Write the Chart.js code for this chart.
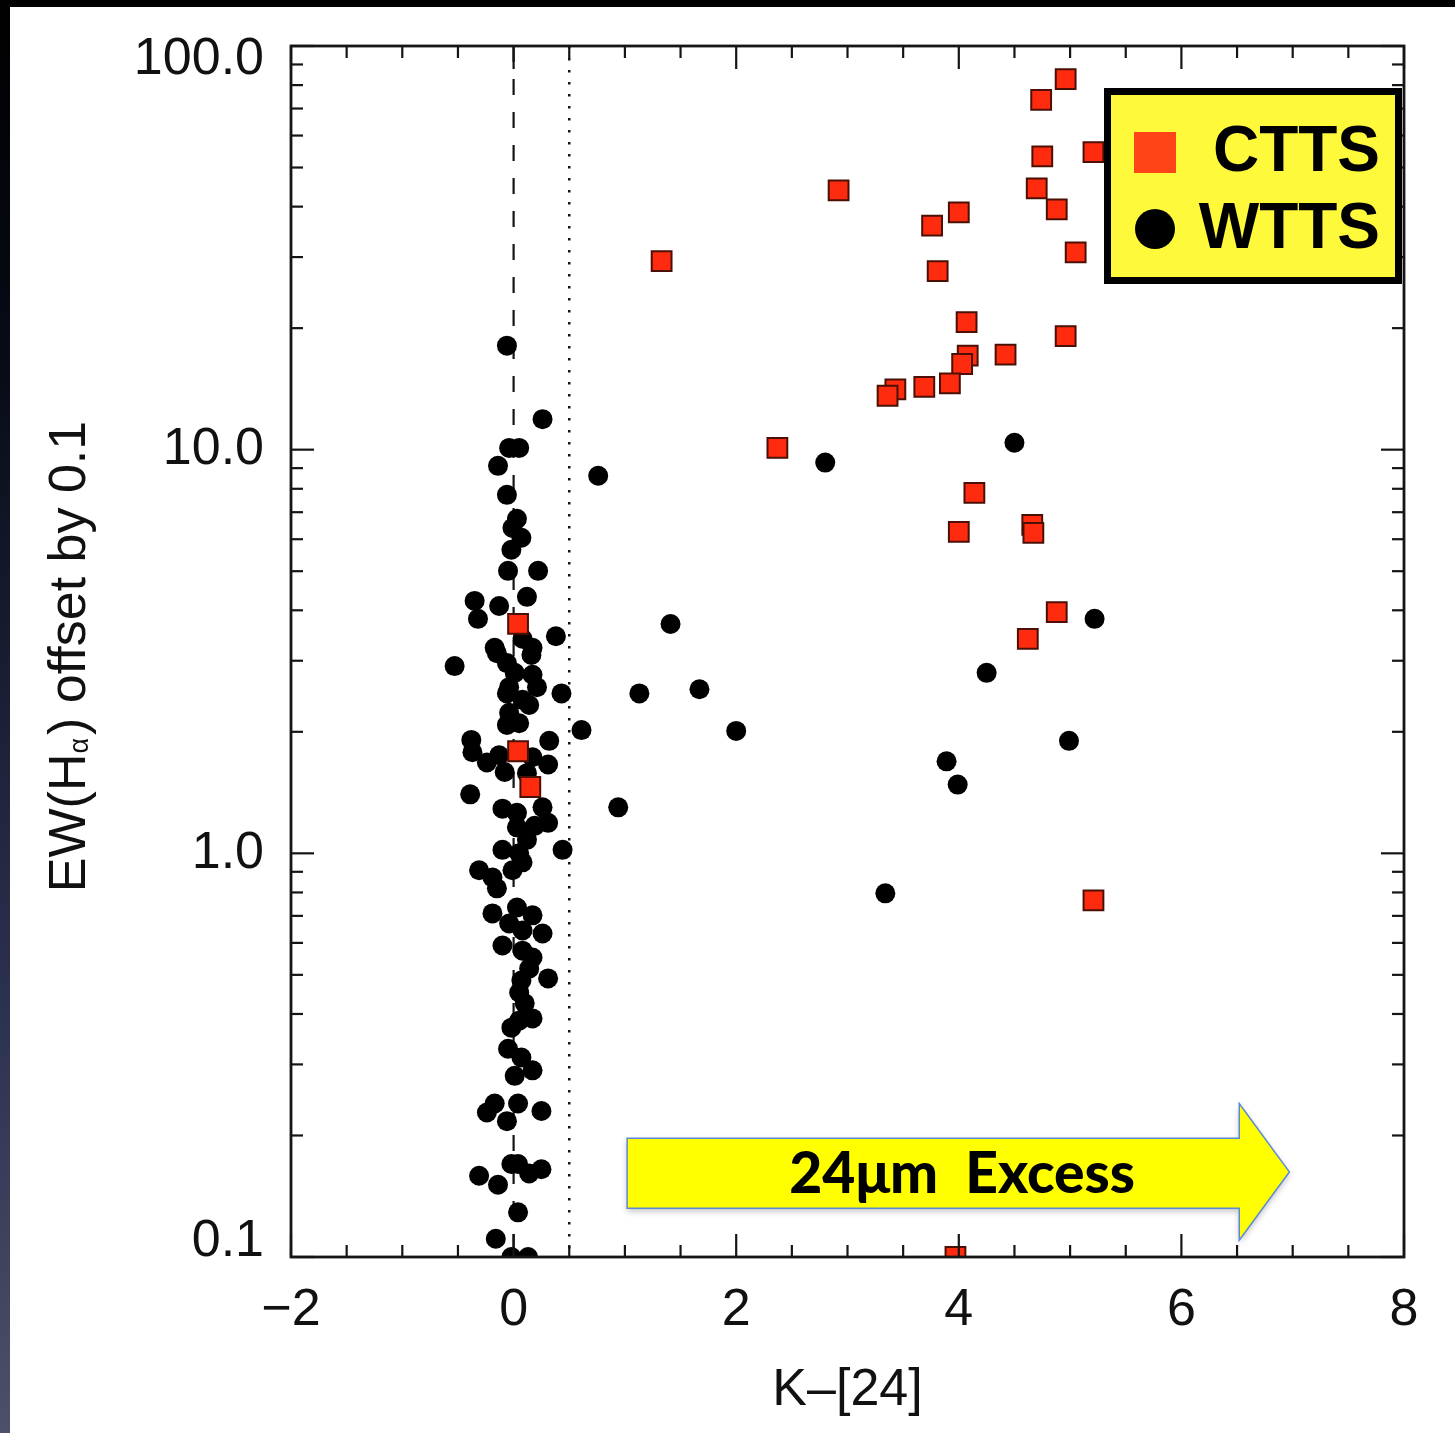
<!DOCTYPE html>
<html>
<head>
<meta charset="utf-8">
<title>EW(Hα) vs K-[24]</title>
<script src="https://cdn.jsdelivr.net/npm/chart.js@4.4.1/dist/chart.umd.min.js"></script>
<style>
  html, body { margin: 0; padding: 0; background: #fff; overflow: hidden; }
  #plot { display: block; }
</style>
</head>
<body>
<canvas id="plot" width="1455" height="1433"></canvas>
<script>
// ── Data: K-[24] colour vs EW(Hα) (offset by 0.1) ──
// CTTS (classical T Tauri stars)
const cttsX = [4.96, 4.74, 5.21, 4.75, 2.92, 4.70, 4.88, 4.00, 3.76, 5.05, 1.33,
               3.81, 4.07, 4.96, 4.42, 4.08, 4.03, 3.92, 3.69, 3.43, 3.36, 2.37,
               4.14, 4.66, 4.67, 4.00, 4.88, 4.62, 5.21, 3.97, 0.04, 0.04, 0.15];
const cttsY = [82.8, 73.5, 54.6, 53.3, 43.9, 44.4, 39.4, 38.7, 35.9, 30.8, 29.3,
               27.7, 20.7, 19.1, 17.2, 17.1, 16.3, 14.6, 14.3, 14.1, 13.6, 10.1,
               7.82, 6.51, 6.22, 6.26, 3.96, 3.40, 0.765, 0.1, 3.70, 1.79, 1.46];

// WTTS (weak-line T Tauri stars)
const wttsX = [-0.06, 0.26, -0.04, 0.05, -0.14, 0.76, -0.06, 0.03, -0.01, 0.07,
               -0.02, -0.05, 0.22, -0.35, 0.12, -0.13, -0.32, 0.38, 0.08, -0.17,
               0.17, -0.15, -0.53, -0.06, 0.16, 0.01, 0.17, -0.04, 0.21, 0.43,
               -0.06, 0.08, 0.14, -0.04, 0.61, -0.06, 0.05, -0.38, 0.32, -0.37,
               -0.24, -0.13, 0.17, 0.31, -0.08, 0.12, -0.39, 0.94, -0.10, 0.26,
               0.03, 0.31, 0.19, 0.03, 0.12, -0.10, 0.44, 0.05, 0.08, -0.31,
               -0.01, -0.19, -0.15, -0.19, 0.03, 0.17, -0.04, 0.08, 0.26, -0.10,
               0.08, 0.17, 0.14, 0.31, 0.07, 0.05, 0.10, 0.17, -0.02, 0.05,
               -0.05, 0.07, 0.17, 0.01, -0.17, 0.04, -0.24, -0.06, 0.25, -0.02,
               0.04, 0.25, 0.14, -0.31, -0.14, 0.04, -0.16, -0.02, 0.13,
               4.50, 2.80, 5.22, 1.41, 4.25, 1.13, 1.67, 2.00, 4.99, 3.89,
               3.99, 3.34];
const wttsY = [18.1, 11.9, 10.1, 10.1, 9.12, 8.62, 7.73, 6.74, 6.40, 6.05,
               5.65, 5.01, 5.01, 4.22, 4.32, 4.10, 3.81, 3.45, 3.40, 3.23,
               3.23, 3.13, 2.91, 2.96, 3.10, 2.80, 2.77, 2.58, 2.58, 2.49,
               2.49, 2.40, 2.33, 2.23, 2.02, 2.08, 2.10, 1.91, 1.90, 1.78,
               1.68, 1.75, 1.73, 1.66, 1.59, 1.58, 1.40, 1.30, 1.29, 1.30,
               1.26, 1.19, 1.17, 1.16, 1.08, 1.02, 1.02, 1.00, 0.95, 0.908,
               0.908, 0.871, 0.819, 0.710, 0.734, 0.702, 0.670, 0.644, 0.633, 0.591,
               0.574, 0.552, 0.518, 0.490, 0.484, 0.452, 0.425, 0.390, 0.370, 0.385,
               0.328, 0.312, 0.290, 0.281, 0.240, 0.240, 0.228, 0.217, 0.230, 0.170,
               0.170, 0.165, 0.161, 0.159, 0.151, 0.129, 0.111, 0.1, 0.1,
               10.4, 9.29, 3.81, 3.70, 2.80, 2.49, 2.55, 2.01, 1.90, 1.69,
               1.48, 0.796];

// Reference colours: photospheric K-[24] (dashed) and excess limit (dotted)
const photosphereX = 0;
const excessLimitX = 0.5;

// ── Axes ──
const xRange       = [-2, 8];
const yRange       = [0.1, 100];
const xMajorTicks  = [-2, 0, 2, 4, 6, 8];
const xMinorStep   = 0.5;
const yMajorTicks  = [0.1, 1, 10, 100];
const yTickLabels  = ["0.1", "1.0", "10.0", "100.0"];
const xTitle       = "K\u2013[24]";
const yTitleHead   = "EW(H";
const yTitleSub    = "\u03b1";
const yTitleTail   = ") offset by 0.1";

const keyLabels    = ["CTTS", "WTTS"];
const arrowLabel   = "24\u03bcm  Excess";

const COLORS = {
  ctts:      "#ff2b0e",
  cttsEdge:  "#4a1005",
  cttsKey:   "#ff4517",
  wtts:      "#000000",
  axis:      "#151515",
  text:      "#111111",
  keyFill:   "#fff93c",
  arrowFill: "#ffff00",
  arrowEdge: "#5a8ad6",
};

const FONT = '"Liberation Sans", Arial, Helvetica, sans-serif';

// arrow annotation, anchored in data units
const ARROW = { tailX: 1.02, headX: 6.52, tipX: 6.97,
                bodyTop: 0.197, bodyBottom: 0.132, headTop: 0.24, headBottom: 0.11,
                textX: 4.03 };

Chart.defaults.font.family = FONT;
Chart.defaults.color       = COLORS.text;

function toPoints(xs, ys) {
  return xs.map((x, i) => ({ x, y: ys[i] }));
}

// ── Page background (dark slide edge) ──
const pageBackground = {
  id: "pageBackground",
  beforeDraw(chart) {
    const { ctx, width, height } = chart;
    ctx.save();
    ctx.fillStyle = "#ffffff";
    ctx.fillRect(0, 0, width, height);
    ctx.fillStyle = "#000000";
    ctx.fillRect(0, 0, width, 7);
    const g = ctx.createLinearGradient(0, 0, 0, height);
    g.addColorStop(0, "#000000");
    g.addColorStop(0.25, "#080b16");
    g.addColorStop(0.7, "#2c3150");
    g.addColorStop(1, "#4c5068");
    ctx.fillStyle = g;
    ctx.fillRect(0, 0, 10, height);
    ctx.restore();
  },
};

// ── Box frame with inward ticks on all four sides, y labels and y title ──
const axisFrame = {
  id: "axisFrame",
  afterDatasetsDraw(chart) {
    const { ctx, chartArea: a, scales: { x, y } } = chart;
    ctx.save();
    ctx.strokeStyle = COLORS.axis;
    ctx.lineWidth = 2.2;
    const seg = (x1, y1, x2, y2) => {
      ctx.beginPath(); ctx.moveTo(x1, y1); ctx.lineTo(x2, y2); ctx.stroke();
    };

    for (let v = xRange[0]; v <= xRange[1] + 1e-9; v += xMinorStep) {
      const px = x.getPixelForValue(v);
      const len = xMajorTicks.includes(v) ? 23 : 12;
      seg(px, a.bottom, px, a.bottom - len);
      seg(px, a.top, px, a.top + len);
    }
    yMajorTicks.forEach(dec => {
      for (let m = 1; m <= 9; m++) {
        const v = dec * m;
        if (v > yRange[1] * 1.0001) break;
        const py = y.getPixelForValue(v);
        const len = m === 1 ? 23 : 12;
        seg(a.left, py, a.left + len, py);
        seg(a.right, py, a.right - len, py);
      }
    });

    ctx.lineWidth = 2.8;
    ctx.strokeRect(a.left, a.top, a.right - a.left, a.bottom - a.top);

    // y tick labels, kept inside the frame at the ends
    ctx.fillStyle = COLORS.text;
    ctx.font = `52px ${FONT}`;
    ctx.textAlign = "right";
    ctx.textBaseline = "middle";
    yMajorTicks.forEach((v, i) => {
      const py = Math.min(Math.max(y.getPixelForValue(v), a.top + 14), a.bottom - 15);
      ctx.fillText(yTickLabels[i], a.left - 27, py);
    });

    // y title with subscript alpha
    const big = `52px ${FONT}`, small = `27px ${FONT}`;
    ctx.font = big;
    const wHead = ctx.measureText(yTitleHead).width;
    const wTail = ctx.measureText(yTitleTail).width;
    ctx.font = small;
    const wSub = ctx.measureText(yTitleSub).width + 3;
    const total = wHead + wSub + wTail;
    ctx.translate(85, (a.top + a.bottom) / 2 + 5);
    ctx.rotate(-Math.PI / 2);
    ctx.textAlign = "left";
    ctx.textBaseline = "alphabetic";
    let cx = -total / 2;
    ctx.font = big;   ctx.fillText(yTitleHead, cx, 0); cx += wHead;
    ctx.font = small; ctx.fillText(yTitleSub, cx, 3);  cx += wSub;
    ctx.font = big;   ctx.fillText(yTitleTail, cx, 0);
    ctx.restore();
  },
};

// ── Arrow annotation and key box ──
const overlays = {
  id: "overlays",
  afterDraw(chart) {
    const { ctx, chartArea: a, scales: { x, y } } = chart;
    ctx.save();

    // arrow
    const x0 = x.getPixelForValue(ARROW.tailX);
    const xh = x.getPixelForValue(ARROW.headX);
    const xt = x.getPixelForValue(ARROW.tipX);
    const bt = y.getPixelForValue(ARROW.bodyTop);
    const bb = y.getPixelForValue(ARROW.bodyBottom);
    const ht = y.getPixelForValue(ARROW.headTop);
    const hb = y.getPixelForValue(ARROW.headBottom);
    const ym = (ht + hb) / 2;
    ctx.beginPath();
    ctx.moveTo(x0, bt); ctx.lineTo(xh, bt); ctx.lineTo(xh, ht);
    ctx.lineTo(xt, ym); ctx.lineTo(xh, hb); ctx.lineTo(xh, bb);
    ctx.lineTo(x0, bb); ctx.closePath();
    ctx.shadowColor = "rgba(0,0,0,0.25)";
    ctx.shadowBlur = 6;
    ctx.shadowOffsetY = 3;
    ctx.fillStyle = COLORS.arrowFill;
    ctx.fill();
    ctx.shadowColor = "transparent";
    ctx.lineWidth = 1.5;
    ctx.strokeStyle = COLORS.arrowEdge;
    ctx.stroke();

    ctx.fillStyle = "#000";
    ctx.font = `900 57px Lato, "Open Sans", sans-serif`;
    ctx.textAlign = "center";
    ctx.textBaseline = "alphabetic";
    ctx.fillText(arrowLabel, x.getPixelForValue(ARROW.textX), ym + 21);

    // key box
    const kx = a.right - 300, ky = a.top + 42, kw = 298, kh = 196;
    ctx.fillStyle = COLORS.keyFill;
    ctx.fillRect(kx, ky, kw, kh);
    ctx.lineWidth = 7;
    ctx.strokeStyle = "#000";
    ctx.strokeRect(kx + 3.5, ky + 3.5, kw - 7, kh - 7);

    ctx.fillStyle = COLORS.cttsKey;
    ctx.fillRect(kx + 30, ky + 44, 42, 41);
    ctx.fillStyle = COLORS.wtts;
    ctx.beginPath();
    ctx.arc(kx + 51, ky + 141, 20, 0, Math.PI * 2);
    ctx.fill();

    ctx.fillStyle = "#000";
    ctx.font = `bold 64px ${FONT}`;
    ctx.textAlign = "right";
    ctx.fillText(keyLabels[0], kx + 276, ky + 83);
    ctx.fillText(keyLabels[1], kx + 276, ky + 160);
    ctx.restore();
  },
};

// ── Build chart ──
new Chart(document.getElementById("plot"), {
  type: "scatter",
  data: {
    datasets: [
      { label: keyLabels[0], data: toPoints(cttsX, cttsY), pointStyle: "rect",
        pointRadius: 14, backgroundColor: COLORS.ctts, borderColor: COLORS.cttsEdge,
        borderWidth: 2, clip: 0, order: 0 },
      { label: keyLabels[1], data: toPoints(wttsX, wttsY), pointStyle: "circle",
        pointRadius: 10, backgroundColor: COLORS.wtts, borderColor: COLORS.wtts,
        borderWidth: 0, clip: 0, order: 1 },
      { type: "line", label: "photosphere", borderColor: COLORS.axis, borderWidth: 2.2,
        borderDash: [16, 17], pointRadius: 0, order: 2,
        data: [{ x: photosphereX, y: yRange[1] }, { x: photosphereX, y: yRange[0] }] },
      { type: "line", label: "excess limit", borderColor: COLORS.axis, borderWidth: 2.5,
        borderDash: [2.5, 9.5], pointRadius: 0, order: 3,
        data: [{ x: excessLimitX, y: yRange[1] }, { x: excessLimitX, y: yRange[0] }] },
    ],
  },
  options: {
    responsive: false,
    animation: false,
    devicePixelRatio: 1,
    events: [],
    layout: { padding: { top: 46, right: 51, bottom: 0, left: 0 } },
    plugins: { legend: { display: false }, tooltip: { enabled: false } },
    scales: {
      x: {
        type: "linear", min: xRange[0], max: xRange[1],
        grid: { display: false, drawTicks: false },
        border: { display: false },
        ticks: {
          stepSize: 2, padding: 22, maxRotation: 0, autoSkip: false,
          font: { size: 52 }, color: COLORS.text,
          callback: v => (v < 0 ? "\u2212" + Math.abs(v) : String(v)),
        },
        title: { display: true, text: xTitle, font: { size: 52 }, color: COLORS.text,
                 padding: { top: 0, bottom: 11 } },
        afterFit: s => { s.height = 176; },
      },
      y: {
        type: "logarithmic", min: yRange[0], max: yRange[1],
        grid: { display: false, drawTicks: false },
        border: { display: false },
        ticks: { display: false },
        afterFit: s => { s.width = 291; },
      },
    },
  },
  plugins: [pageBackground, axisFrame, overlays],
});
</script>
</body>
</html>
